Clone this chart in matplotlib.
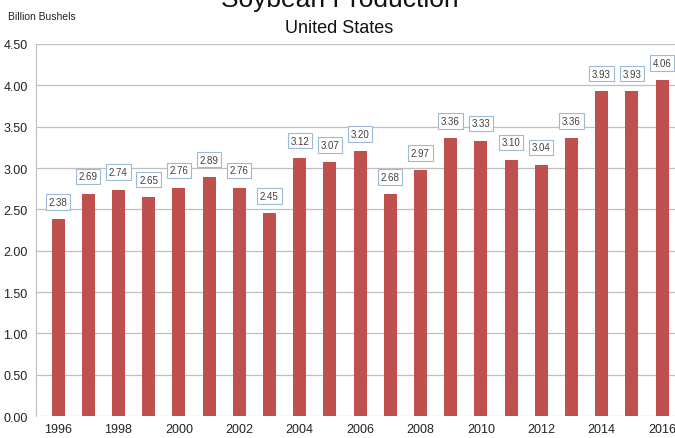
import matplotlib.pyplot as plt
import numpy as np

plt.rcParams['font.family'] = ['Liberation Sans', 'DejaVu Sans']

years = list(range(1996, 2017))
production = [2.38, 2.69, 2.74, 2.65, 2.76, 2.89, 2.76, 2.45, 3.12, 3.07, 3.20,
              2.68, 2.97, 3.36, 3.33, 3.10, 3.04, 3.36, 3.93, 3.93, 4.06]
yticks = np.arange(0, 4.51, 0.5)

fig = plt.figure(figsize=(6.75, 4.39), dpi=100)
ax = fig.add_axes([0.0533, 0.050, 0.9467, 0.8475])

x = np.arange(len(years))
ax.bar(x, production, width=0.43, color='#C0504D', zorder=3)

# value labels in small boxes above the bars
for xi, v in zip(x, production):
    ax.annotate(f'{v:.2f}', (xi, v), xytext=(0, 12.5), textcoords='offset points',
                ha='center', va='center', fontsize=7, color='#404040',
                bbox=dict(boxstyle='square,pad=0.28', fc='white', ec='#9DB9DA', lw=0.8),
                zorder=4)

ax.set_xlim(-0.73, 20.43)
ax.set_ylim(0, 4.5)
ax.set_yticks(yticks)
ax.set_yticklabels([f'{t:.2f}' for t in yticks])
ax.set_xticks(x[::2])
ax.set_xticklabels([str(y) for y in years[::2]])
ax.tick_params(axis='both', length=0, labelsize=9, colors='#222222')
ax.tick_params(axis='y', pad=6)
ax.tick_params(axis='x', pad=5)
ax.grid(axis='y', color='#BFBFBF', lw=0.9, zorder=0)
for s in ['top', 'right', 'bottom']:
    ax.spines[s].set_visible(False)
ax.spines['left'].set_color('#BFBFBF')

fig.text(0.503, 1.0, 'Soybean Production', ha='center', va='center', fontsize=19, color='#111111')
fig.text(0.503, 0.936, 'United States', ha='center', va='center', fontsize=13, color='#111111')
fig.text(0.012, 0.962, 'Billion Bushels', ha='left', va='center', fontsize=7.5, color='#222222')

fig.savefig('out.png', dpi=100)
